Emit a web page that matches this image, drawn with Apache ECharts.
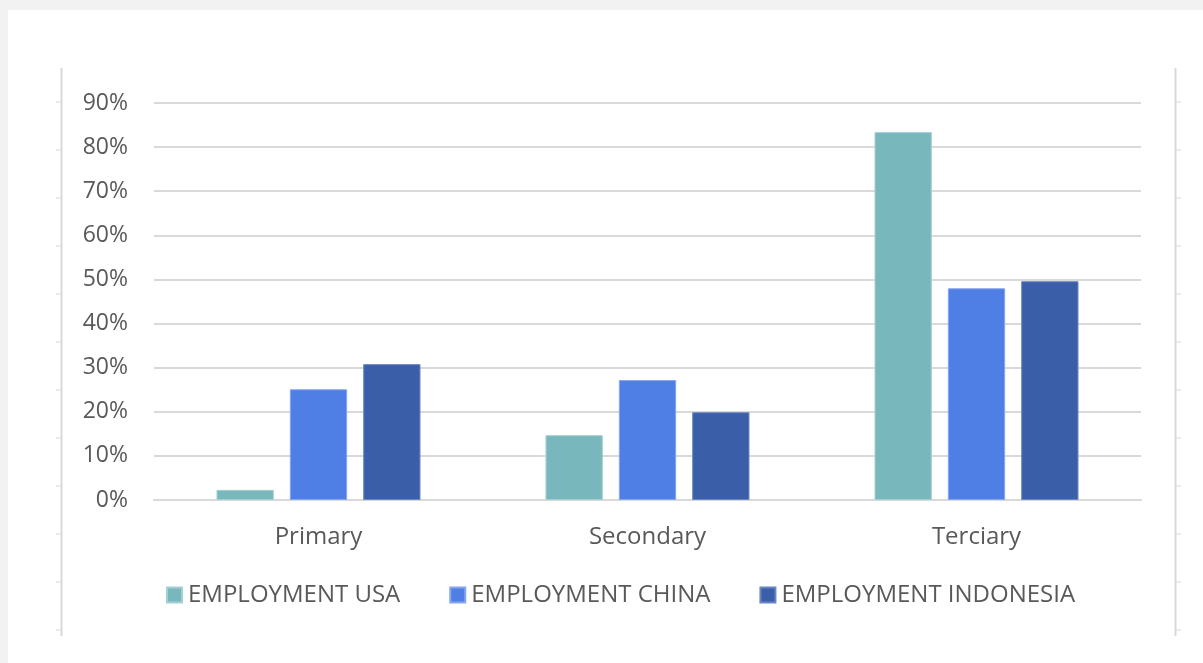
<!DOCTYPE html>
<html>
<head>
<meta charset="utf-8">
<script src="https://cdn.jsdelivr.net/npm/echarts@6/dist/echarts.min.js"></script>
<style>
  html, body { margin: 0; padding: 0; background: #f2f2f2; }
  #chart { width: 1203px; height: 663px; }
</style>
</head>
<body>
<div id="chart"></div>
<script>
// Employment share by economic sector
const sectors = ['Primary', 'Secondary', 'Terciary'];
const seriesNames = ['EMPLOYMENT USA', 'EMPLOYMENT CHINA', 'EMPLOYMENT INDONESIA'];
const employmentUSA = [2.3, 14.7, 83.4];
const employmentChina = [25.1, 27.2, 48.0];
const employmentIndonesia = [30.8, 19.9, 49.6];
const seriesColors = ['#78b8bc', '#4f7fe4', '#3a5fa8'];
const seriesBorders = ['#a3d0d2', '#86a6ee', '#6a86c2'];

const chart = echarts.init(document.getElementById('chart'), null, { renderer: 'canvas' });

const textColor = '#595959';
const fontFamily = '"Open Sans", "Noto Sans", sans-serif';
const frameColor = '#d9d9d9';

// Frame lines with small outside ticks on both sides of the sheet area
const frameTicks = [];
for (let y = 102; y <= 632; y += 48) {
  frameTicks.push({ type: 'line', shape: { x1: 56, y1: y, x2: 61, y2: y }, style: { stroke: frameColor, lineWidth: 1 }, silent: true });
  frameTicks.push({ type: 'line', shape: { x1: 1176, y1: y, x2: 1181, y2: y }, style: { stroke: frameColor, lineWidth: 1 }, silent: true });
}

const dataSets = [employmentUSA, employmentChina, employmentIndonesia];

chart.setOption({
  backgroundColor: '#f2f2f2',
  animation: false,
  graphic: [
    { type: 'rect', shape: { x: 8, y: 10, width: 1195, height: 653 }, style: { fill: '#ffffff' }, z: -10, silent: true },
    { type: 'line', shape: { x1: 61.5, y1: 68, x2: 61.5, y2: 636 }, style: { stroke: frameColor, lineWidth: 2 }, silent: true },
    { type: 'line', shape: { x1: 1175.5, y1: 68, x2: 1175.5, y2: 636 }, style: { stroke: frameColor, lineWidth: 2 }, silent: true }
  ].concat(frameTicks),
  grid: { left: 154, right: 62, top: 103, bottom: 163, containLabel: false },
  legend: {
    data: seriesNames,
    left: 166,
    top: 583,
    padding: 0,
    itemWidth: 15,
    itemHeight: 15,
    itemGap: 49,
    icon: 'rect',
    textStyle: { color: textColor, fontSize: 24, lineHeight: 24, fontFamily: fontFamily, padding: [0, 0, 0, 1] }
  },
  xAxis: {
    type: 'category',
    data: sectors,
    axisLine: { show: true, lineStyle: { color: frameColor, width: 2 } },
    axisTick: { show: false },
    axisLabel: { color: textColor, fontSize: 24, fontFamily: fontFamily, margin: 25 }
  },
  yAxis: {
    type: 'value',
    min: 0,
    max: 90,
    interval: 10,
    axisLine: { show: false },
    axisTick: { show: false },
    splitLine: { lineStyle: { color: frameColor, width: 2 } },
    axisLabel: { color: textColor, fontSize: 23, fontFamily: fontFamily, margin: 26, formatter: '{value}%' }
  },
  series: seriesNames.map((name, i) => ({
    name: name,
    type: 'bar',
    data: dataSets[i],
    barCategoryGap: '38%',
    barGap: '28%',
    itemStyle: { color: seriesColors[i], borderColor: seriesBorders[i], borderWidth: 1 }
  }))
});
</script>
</body>
</html>
